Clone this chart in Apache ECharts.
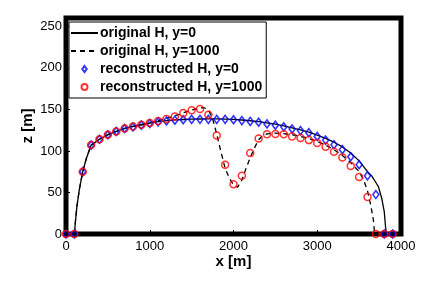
<!DOCTYPE html>
<html>
<head>
<meta charset="utf-8">
<script src="https://cdn.jsdelivr.net/npm/echarts@6/dist/echarts.min.js"></script>
<style>
html,body{margin:0;padding:0;background:#fff;}
#chart{width:445px;height:284px;}
</style>
</head>
<body>
<div id="chart"></div>
<script>
// x positions of reconstructed points
var recX = [0,100,200,300,400,500,600,700,800,900,1000,1100,1200,1300,1400,1500,1600,1700,1800,1900,2000,2100,2200,2300,2400,2500,2600,2700,2800,2900,3000,3100,3200,3300,3400,3500,3600,3700,3800,3900];
// reconstructed H, y=0 (blue diamonds)
var recZ0 = [0,0,75,107,114,119.5,123.5,127,129,131,133,135,136,137,137.5,138,138,138,138,138,137.5,136.5,135.5,134.5,132.5,131,129,126.5,124.5,122,117.5,113,107.5,101.5,93,83.5,70,47.5,0,0];
// reconstructed H, y=1000 (red circles)
var recZ1000 = [0,0,75,107,114,119.5,123.5,127,129.5,131.5,133.5,136,138.5,141.5,145.5,149,150.5,143.5,118.5,83.5,60,70,97.5,115,120,120.5,120,117.5,115.5,113,109.5,105,99,92,82,68.5,44.5,0,0,0];
// original H, y=0 (solid)
var origX0 = [0,100,110,130,160,200,240,300,400,500,600,700,800,900,1000,1100,1200,1300,1400,1500,1600,1700,1800,1900,2000,2100,2200,2300,2400,2500,2600,2700,2800,2900,3000,3100,3200,3300,3400,3500,3600,3650,3700,3730,3770,3800,3815,3826,3900];
var origZ0 = [0,0,12,33,54,75,90,107,114,119.5,123.5,127,129.5,131.5,133.5,135.3,136.5,137.3,137.8,138.2,138.4,138.5,138.5,138.3,137.9,137.2,136.3,135.2,133.8,132.2,130.2,127.8,125.3,122.5,119,115,110.5,104.8,97.5,88,75,70,62,57,43,27,9,0,0];
// original H, y=1000 (dashed)
var origX1000 = [0,100,110,130,160,200,240,300,400,500,600,700,800,900,1000,1100,1200,1300,1400,1500,1600,1650,1700,1750,1800,1850,1900,1950,2000,2050,2100,2150,2200,2250,2300,2350,2400,2500,2600,2700,2800,2900,3000,3100,3200,3300,3400,3500,3550,3600,3640,3670,3685,3900];
var origZ1000 = [0,0,12,33,54,75,90,107,114,119.5,123.5,127,129.5,131.5,133.8,136.5,139.2,142.3,145.8,149.2,151.6,152,149.5,139,120,99,79,67.5,59,56.5,65,79,92,103.5,113.5,118.5,120.5,121.5,120.8,119.5,117.5,115,111.5,107,101.5,94.5,86,75,66,52,34,17,0,0];

var xTicks = [0,1000,2000,3000,4000];
var yTicks = [0,50,100,150,200,250];

function pairs(xs, ys){ return xs.map(function(x,i){return [x, ys[i]];}); }

var FONT = 'Liberation Sans';
var chart = echarts.init(document.getElementById('chart'), null, {renderer:'canvas'});
chart.setOption({
  animation:false,
  backgroundColor:'#fff',
  textStyle:{fontFamily:FONT},
  grid:{left:66, right:44, top:18, bottom:50, show:true, borderColor:'#000', borderWidth:5, backgroundColor:'transparent'},
  legend:{
    left:69, top:22, orient:'vertical',
    backgroundColor:'#fff', borderColor:'#000', borderWidth:1,
    padding:[3,4,3,1],
    itemWidth:27, itemHeight:6, itemGap:2, symbolKeepAspect:true,
    textStyle:{fontFamily:FONT, fontSize:14, fontWeight:'bold', color:'#000', padding:[0,0,0,-3], lineHeight:16},
    data:[
      {name:'original H, y=0', itemStyle:{opacity:0}},
      {name:'original H, y=1000', itemStyle:{opacity:0}},
      {name:'reconstructed H, y=0', icon:'path://M3,0L6,4L3,8L0,4Z'},
      {name:'reconstructed H, y=1000'}
    ]
  },
  xAxis:{
    type:'value', min:0, max:4000, interval:1000,
    name:'x [m]', nameLocation:'middle', nameGap:20, nameMoveOverlap:false,
    nameTextStyle:{fontFamily:FONT, fontSize:15, fontWeight:'bold', color:'#000'},
    axisLine:{show:false},
    axisTick:{show:true, inside:true, length:4, lineStyle:{color:'#000'}},
    axisLabel:{fontFamily:FONT, fontSize:13, color:'#000', margin:6,
      formatter:function(v){return xTicks.indexOf(v)>=0 ? String(v) : '';}},
    splitLine:{show:false}
  },
  yAxis:{
    type:'value', min:0, max:260, interval:50,
    name:'z [m]', nameLocation:'middle', nameGap:31, nameRotate:90, nameMoveOverlap:false,
    nameTextStyle:{fontFamily:FONT, fontSize:15, fontWeight:'bold', color:'#000'},
    axisLine:{show:false},
    axisTick:{show:true, inside:true, length:4, lineStyle:{color:'#000'}},
    axisLabel:{fontFamily:FONT, fontSize:13, color:'#000', margin:4, showMaxLabel:false,
      formatter:function(v){return yTicks.indexOf(v)>=0 ? String(v) : '';}},
    splitLine:{show:false}
  },
  series:[
    {name:'original H, y=0', type:'line', data:pairs(origX0, origZ0), symbol:'none', smooth:false,
      lineStyle:{color:'#000', width:1.3, type:'solid'}, itemStyle:{color:'#000'}, z:2},
    {name:'original H, y=1000', type:'line', data:pairs(origX1000, origZ1000), symbol:'none', smooth:false,
      lineStyle:{color:'#000', width:1.3, type:[5,4]}, itemStyle:{color:'#000'}, z:2},
    {name:'reconstructed H, y=0', type:'scatter', data:pairs(recX, recZ0), symbol:'diamond', symbolSize:[6,8],
      itemStyle:{color:'transparent', borderColor:'#0000ff', borderWidth:1.6}, z:3},
    {name:'reconstructed H, y=1000', type:'scatter', data:pairs(recX, recZ1000), symbol:'circle', symbolSize:7,
      itemStyle:{color:'transparent', borderColor:'#ff0000', borderWidth:1.5}, z:4}
  ]
});
</script>
</body>
</html>
